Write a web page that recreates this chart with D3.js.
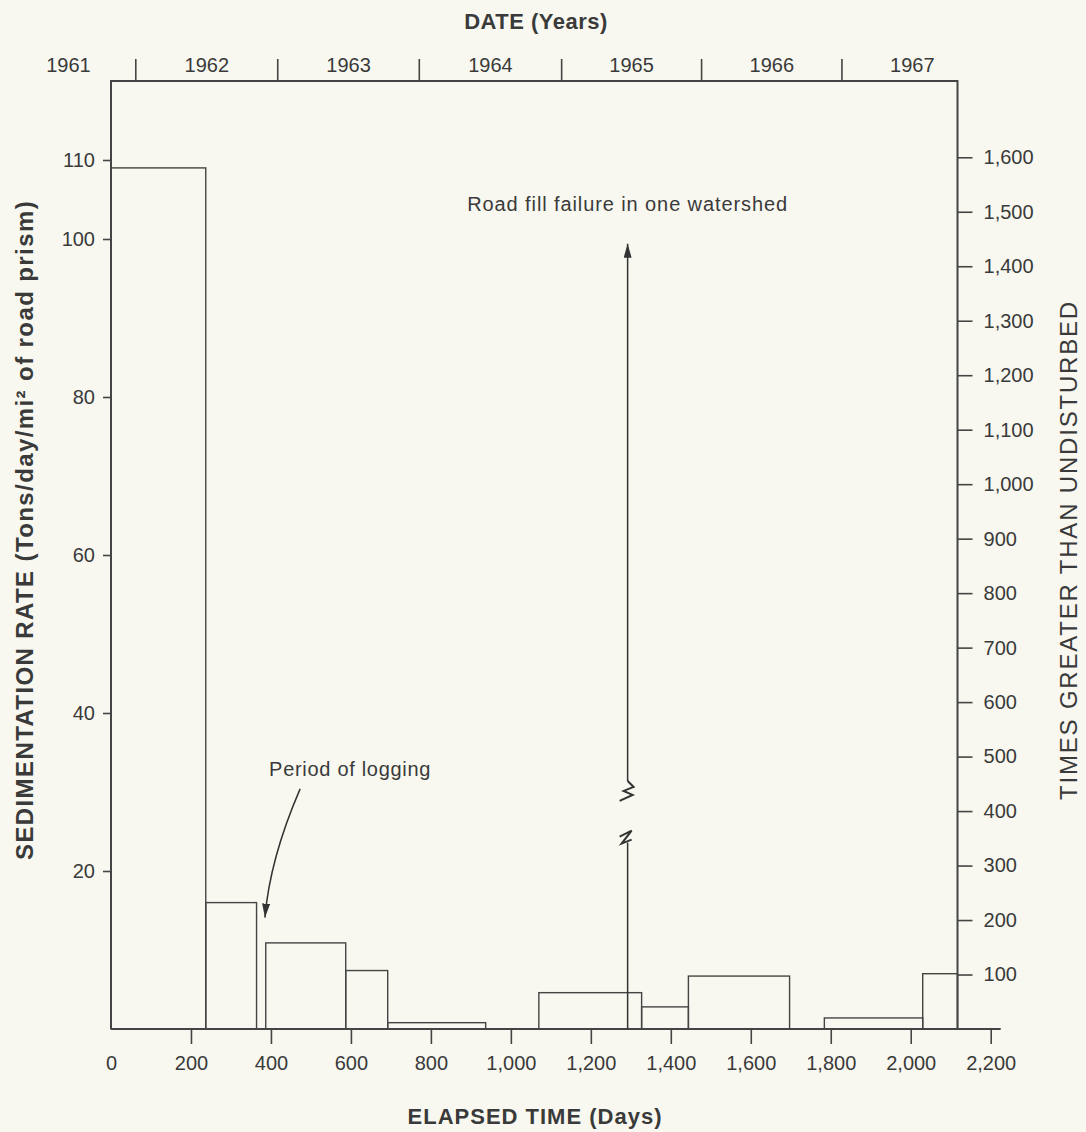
<!DOCTYPE html>
<html>
<head>
<meta charset="utf-8">
<script src="https://cdn.jsdelivr.net/npm/d3@7"></script>
<style>
  body { margin: 0; background: #f8f8f0; }
  svg { display: block; }
  text { font-family: "Liberation Sans", Arial, sans-serif; fill: #3a3a3a; }
</style>
</head>
<body>
<svg id="chart"></svg>
<script>
// ---- data ----
const barStart = [0, 237, 387, 587, 692, 1070, 1327, 1444, 1784, 2030];
const barEnd   = [237, 364, 587, 692, 937, 1327, 1444, 1697, 2030, 2117];
const barRate  = [109, 16.0, 10.9, 7.4, 0.8, 4.6, 2.8, 6.7, 1.4, 7.0];

const dayTicks   = [0, 200, 400, 600, 800, 1000, 1200, 1400, 1600, 1800, 2000, 2200];
const rateTicks  = [20, 40, 60, 80, 100, 110];
const timesTicks = [100, 200, 300, 400, 500, 600, 700, 800, 900, 1000, 1100, 1200, 1300, 1400, 1500, 1600];

const years      = ["1961", "1962", "1963", "1964", "1965", "1966", "1967"];
const yearBounds = [-275, 62, 417, 771, 1127, 1477, 1828, 2180];

// road fill failure marker (day, broken line)
const failureDay = 1292;
const failureLow = 23.6, failureHigh = 31.4, failureTop = 99.4;

// ---- chart setup ----
const width = 1086, height = 1132;
const lineColor = "#444";

const x = d3.scaleLinear().domain([0, 2200]).range([111, 990.7]);
const y = d3.scaleLinear().domain([0, 120]).range([1029, 81]);
const y2 = d3.scaleLinear().domain([0, 1740]).range([1029, 81]);
const frameRight = x(2117);

const svg = d3.select("#chart")
  .attr("width", width)
  .attr("height", height)
  .attr("viewBox", `0 0 ${width} ${height}`);

svg.append("rect").attr("width", width).attr("height", height).attr("fill", "#f8f8f0");

// defs: arrowhead
svg.append("defs").append("marker")
  .attr("id", "arrow")
  .attr("viewBox", "0 0 14 8")
  .attr("refX", 14).attr("refY", 4)
  .attr("markerWidth", 14).attr("markerHeight", 8)
  .attr("markerUnits", "userSpaceOnUse")
  .attr("orient", "auto")
  .append("path")
  .attr("d", "M0,0 L14,4 L0,8 Z")
  .attr("fill", "#333");

// bars
svg.append("g")
  .selectAll("rect")
  .data(barRate.map((r, i) => ({ s: barStart[i], e: barEnd[i], r })))
  .join("rect")
  .attr("x", d => x(d.s))
  .attr("y", d => y(d.r))
  .attr("width", d => x(d.e) - x(d.s))
  .attr("height", d => y(0) - y(d.r))
  .attr("fill", "none")
  .attr("stroke", lineColor)
  .attr("stroke-width", 1.4);

// frame (left, top, right) + baseline
const frame = svg.append("g").attr("stroke", lineColor).attr("fill", "none").attr("stroke-width", 2);
frame.append("path")
  .attr("d", `M${x(0)},${y(0)} V${y(120)} H${frameRight} V${y(0)}`);
frame.append("line")
  .attr("x1", x(0)).attr("x2", x(2225))
  .attr("y1", y(0)).attr("y2", y(0));

// left axis
const leftAxis = svg.append("g")
  .attr("transform", `translate(${x(0)},0)`)
  .call(d3.axisLeft(y).tickValues(rateTicks).tickSize(8).tickPadding(8));
leftAxis.select(".domain").remove();

// right axis
const rightAxis = svg.append("g")
  .attr("transform", `translate(${frameRight},0)`)
  .call(d3.axisRight(y2).tickValues(timesTicks).tickSize(15).tickPadding(11).tickFormat(d3.format(",")));
rightAxis.select(".domain").remove();

// bottom axis
const bottomAxis = svg.append("g")
  .attr("transform", `translate(0,${y(0)})`)
  .call(d3.axisBottom(x).tickValues(dayTicks).tickSize(15).tickPadding(12).tickFormat(d3.format(",")));
bottomAxis.select(".domain").remove();
bottomAxis.selectAll(".tick").filter(d => d === 0).select("line").remove();

[leftAxis, rightAxis, bottomAxis].forEach(g => {
  g.selectAll(".tick line").attr("stroke", lineColor).attr("stroke-width", 1.6);
  g.selectAll(".tick text")
    .attr("font-size", 20)
    .attr("font-family", "Liberation Sans, Arial, sans-serif")
    .attr("fill", "#3a3a3a");
});

// top (years) axis
const yearAxis = svg.append("g");
yearAxis.selectAll("line")
  .data(yearBounds.slice(1, -1))
  .join("line")
  .attr("x1", d => x(d)).attr("x2", d => x(d))
  .attr("y1", y(120)).attr("y2", y(120) - 22)
  .attr("stroke", lineColor).attr("stroke-width", 1.6);
yearAxis.selectAll("text")
  .data(years)
  .join("text")
  .attr("x", (d, i) => x((yearBounds[i] + yearBounds[i + 1]) / 2))
  .attr("y", 72)
  .attr("text-anchor", "middle")
  .attr("font-size", 20)
  .text(d => d);

// axis titles
svg.append("text")
  .attr("x", 536).attr("y", 29)
  .attr("text-anchor", "middle")
  .attr("font-size", 22).attr("font-weight", "bold")
  .attr("letter-spacing", 0.5)
  .text("DATE (Years)");

svg.append("text")
  .attr("x", 535).attr("y", 1124)
  .attr("text-anchor", "middle")
  .attr("font-size", 22).attr("font-weight", "bold")
  .attr("letter-spacing", 1)
  .text("ELAPSED TIME (Days)");

svg.append("text")
  .attr("transform", "translate(33,530) rotate(-90)")
  .attr("text-anchor", "middle")
  .attr("font-size", 24).attr("font-weight", "bold")
  .attr("letter-spacing", 1.4)
  .text("SEDIMENTATION RATE (Tons/day/mi\u00B2 of road prism)");

svg.append("text")
  .attr("transform", "translate(1077,550) rotate(-90)")
  .attr("text-anchor", "middle")
  .attr("font-size", 24)
  .attr("letter-spacing", 1.8)
  .text("TIMES GREATER THAN UNDISTURBED");

// road fill failure annotation
const fx = x(failureDay);
const ann = svg.append("g").attr("stroke", "#333").attr("fill", "none").attr("stroke-width", 1.5);
ann.append("line")
  .attr("x1", fx).attr("x2", fx)
  .attr("y1", y(0)).attr("y2", y(failureLow));
ann.append("line")
  .attr("x1", fx).attr("x2", fx)
  .attr("y1", y(failureHigh)).attr("y2", y(failureTop))
  .attr("marker-end", "url(#arrow)");
// break marks
const lowY = y(failureLow), highY = y(failureHigh);
ann.append("path")
  .attr("d", `M${fx - 8},${lowY - 6} L${fx + 4},${lowY - 12} L${fx - 6},${lowY + 1} L${fx + 4},${lowY - 3}`)
  .attr("stroke-width", 2);
ann.append("path")
  .attr("d", `M${fx},${highY} L${fx + 6},${highY + 6} L${fx - 4},${highY + 10} L${fx + 5},${highY + 14} L${fx - 8},${highY + 20}`)
  .attr("stroke-width", 2);

svg.append("text")
  .attr("x", fx).attr("y", y(103.5))
  .attr("text-anchor", "middle")
  .attr("font-size", 20)
  .attr("letter-spacing", 0.9)
  .text("Road fill failure in one watershed");

// period of logging annotation
svg.append("text")
  .attr("x", x(598)).attr("y", y(32))
  .attr("text-anchor", "middle")
  .attr("font-size", 20)
  .attr("letter-spacing", 0.7)
  .text("Period of logging");

const p0 = [x(473), y(30.4)], pc = [x(397), y(21.5)], p1 = [x(385), y(14.1)];
svg.append("path")
  .attr("d", `M${p0[0]},${p0[1]} Q${pc[0]},${pc[1]} ${p1[0]},${p1[1]}`)
  .attr("fill", "none").attr("stroke", "#333").attr("stroke-width", 1.5)
  .attr("marker-end", "url(#arrow)");
</script>
</body>
</html>
